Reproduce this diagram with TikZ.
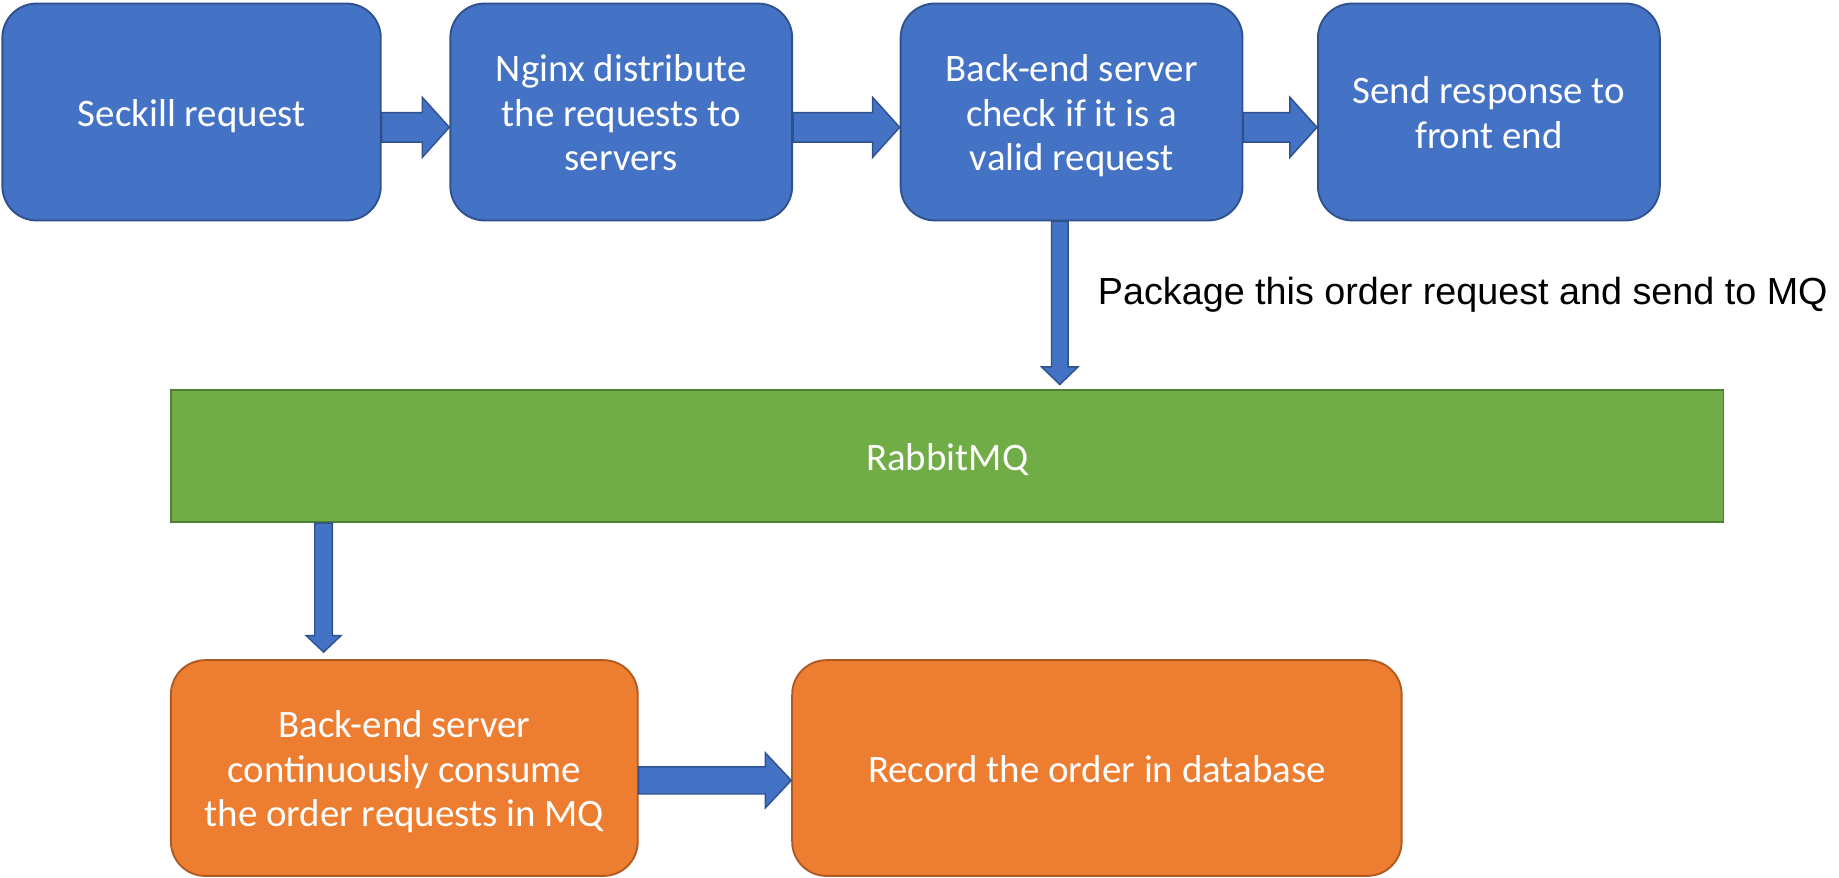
\documentclass[tikz,border=0pt]{standalone}
\usepackage{fontspec}
\setmainfont{Carlito}
\newfontfamily\arialf{Liberation Sans}
\usetikzlibrary{calc}
\definecolor{bfill}{HTML}{4472C4}
\definecolor{bline}{HTML}{2F528F}
\definecolor{gfill}{HTML}{70AD47}
\definecolor{gline}{HTML}{507E32}
\definecolor{ofill}{HTML}{ED7D31}
\definecolor{oline}{HTML}{AE5A21}
\newcommand\tp{\rule{0pt}{16pt}}
\newcommand\bs{\rule[-4pt]{0pt}{4pt}}
\newcommand\harrow[6]{%
  \draw[blockarrow] let \p1=(#1.east), \p2=(#2.west), \p3=(0,#3) in
  (\x1,\y3+#4) -- (\x2-#6,\y3+#4) -- (\x2-#6,\y3+#5) -- (\x2,\y3)
  -- (\x2-#6,\y3-#5) -- (\x2-#6,\y3-#4) -- (\x1,\y3-#4) -- cycle;}
\newcommand\varrow[7]{%
  \draw[blockarrow] let \p1=(#1.south), \p2=(#2.north), \p3=(#3,0) in
  (\x3-#4,\y1) -- (\x3-#4,\y2+#7+#6) -- (\x3-#5,\y2+#7+#6) -- (\x3,\y2+#7)
  -- (\x3+#5,\y2+#7+#6) -- (\x3+#4,\y2+#7+#6) -- (\x3+#4,\y1) -- cycle;}
\begin{document}
\begin{tikzpicture}[x=0.5pt,y=-0.5pt,
  box/.style={rounded corners=14.5pt, line width=0.8pt, text=white, align=center,
    font=\fontsize{16.5}{19}\selectfont, inner sep=0pt},
  bluebox/.style={box, fill=bfill, draw=bline, minimum width=145pt, minimum height=92pt},
  orangebox/.style={box, fill=ofill, draw=oline, minimum height=91.5pt},
  mqbox/.style={box, rounded corners=0pt, fill=gfill, draw=gline, minimum width=658.5pt, minimum height=56pt},
  blockarrow/.style={fill=bfill, draw=bline, line width=0.6pt},
  note/.style={anchor=base west, font=\arialf\fontsize{16}{19}\selectfont, text=black, inner sep=0pt}]
\useasboundingbox (0,0) rectangle (1560,744);

\node[bluebox, minimum width=160.5pt] (b1) at (162.5,95) {\tp Seckill request\bs};
\node[bluebox] (b2) at (527,95) {\tp Nginx distribute\\the requests to\\servers\bs};
\node[bluebox] (b3) at (909,95) {\tp Back-end server\\check if it is a\\valid request\bs};
\node[bluebox] (b4) at (1263,95) {\tp Send response to\\front end\bs};

\node[mqbox] (rmq) at (803.5,387) {\tp RabbitMQ\bs};

\node[orangebox, minimum width=198pt] (o1) at (343,651.5) {\tp Back-end server\\continuously consume\\the order requests in MQ\bs};
\node[orangebox, minimum width=258.5pt] (o2) at (930.5,651.5) {\tp Record the order in database\bs};

\node[note] (lbl) at (931,258) {Package this order request and send to MQ};

\harrow{b1}{b2}{108}{6.25pt}{12.75pt}{11.5pt}
\harrow{b2}{b3}{108}{6.25pt}{12.75pt}{11.5pt}
\harrow{b3}{b4}{108}{6.25pt}{12.75pt}{11.5pt}
\harrow{o1}{o2}{662}{5.75pt}{11.7pt}{11pt}

\varrow{b3}{rmq}{899}{3.5pt}{7.75pt}{7.5pt}{2pt}
\varrow{rmq}{o1}{274.5}{3.75pt}{7.4pt}{7pt}{3pt}
\end{tikzpicture}
\end{document}
